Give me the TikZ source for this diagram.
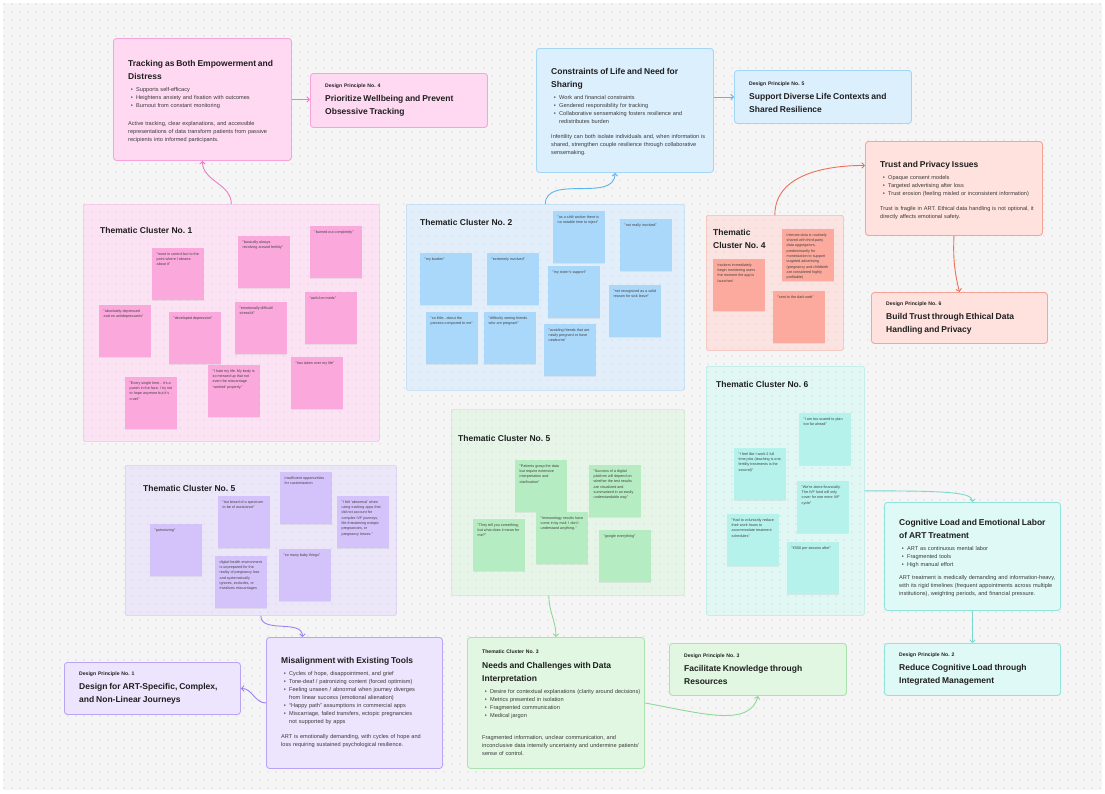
\documentclass[tikz,border=0pt]{standalone}
\usepackage{fontspec}
\setmainfont{Liberation Sans}
\usetikzlibrary{arrows.meta,shadows}

\definecolor{canvas}{HTML}{F5F5F5}
\definecolor{dotc}{HTML}{C9C9C9}
\definecolor{ink}{HTML}{1F1F1F}
\definecolor{body}{HTML}{3A3A3A}
% pink
\definecolor{pkBox}{HTML}{FFD9F1}\definecolor{pkLine}{HTML}{F5A3DA}\definecolor{pkArrow}{HTML}{F27AC9}
\definecolor{pkClu}{HTML}{FBE3F3}\definecolor{pkCluLine}{HTML}{F7BDE3}\definecolor{pkNote}{HTML}{FBA9DD}
% blue
\definecolor{buBox}{HTML}{DCEFFD}\definecolor{buLine}{HTML}{A3D5F7}\definecolor{buArrow}{HTML}{5BB5EE}
\definecolor{buClu}{HTML}{E2EFFA}\definecolor{buCluLine}{HTML}{B6DBF5}\definecolor{buNote}{HTML}{AAD8FB}
% salmon
\definecolor{rdBox}{HTML}{FFE1DD}\definecolor{rdLine}{HTML}{F5A596}\definecolor{rdArrow}{HTML}{EF6F58}
\definecolor{rdClu}{HTML}{FBE3E1}\definecolor{rdCluLine}{HTML}{F6B8AE}\definecolor{rdNote}{HTML}{FCAA9D}
% teal
\definecolor{tlBox}{HTML}{DFFAF6}\definecolor{tlLine}{HTML}{92E3DA}\definecolor{tlArrow}{HTML}{79DACF}
\definecolor{tlClu}{HTML}{E0F7F4}\definecolor{tlCluLine}{HTML}{B1EBE4}\definecolor{tlNote}{HTML}{B5F2EB}
% purple
\definecolor{ppBox}{HTML}{ECE5FD}\definecolor{ppLine}{HTML}{B9A4F5}\definecolor{ppArrow}{HTML}{9E80EF}
\definecolor{ppClu}{HTML}{ECE6F9}\definecolor{ppCluLine}{HTML}{D8CBF6}\definecolor{ppNote}{HTML}{D4C3FB}
% green
\definecolor{gnBox}{HTML}{E1F7E2}\definecolor{gnLine}{HTML}{ABE3AF}\definecolor{gnArrow}{HTML}{8ED996}
\definecolor{gnClu}{HTML}{E6F5E7}\definecolor{gnCluLine}{HTML}{C9E9CC}\definecolor{gnNote}{HTML}{B6ECC2}

\newcommand\ttl[1]{{\fontsize{8.5}{13}\selectfont\bfseries\color{ink}#1\par}}
\newcommand\lbl[1]{{\fontsize{5.1}{7}\selectfont\bfseries\color{ink}#1\par}}
\newcommand\itm[1]{\par\noindent\hangindent=8pt\hangafter=1\hbox to 8pt{\hspace{2.6pt}\textbullet\hfil}#1\par}
\newcommand\sticky[1]{\parbox[t][43pt][t]{43pt}{\raggedright #1}}
\frenchspacing

\begin{document}
\begin{tikzpicture}[x=1pt,y=-1pt,
  card/.style 2 args={fill=#1,draw=#2,line width=0.9pt,rounded corners=3pt,anchor=north west,inner sep=0pt},
  cluster/.style 2 args={fill=#1,draw=#2,line width=0.7pt,rounded corners=1.5pt,anchor=north west,inner sep=0pt},
  note/.style={fill=#1,anchor=north west,inner sep=4.5pt,font=\fontsize{3.7}{5.3}\selectfont,text=ink!85,
    drop shadow={opacity=0.12,shadow xshift=0pt,shadow yshift=-0.8pt}},
  ctitle/.style={anchor=west,inner sep=0pt,align=left,font=\fontsize{8.5}{13}\selectfont\bfseries,text=ink},
  txt/.style={anchor=west,inner sep=0pt,text width=170pt,align=left,font=\fontsize{5.6}{8}\selectfont,text=body},
  conn/.style={draw=#1,line width=0.9pt,-{Straight Barb[length=2.6pt,width=5.5pt]}}]

\fill[white] (0,0) rectangle (1105,793);
\fill[canvas] (3,3) rectangle (1102,790);
\useasboundingbox (0,0) rectangle (1105,793);

% cluster frames
\node[cluster={pkClu}{pkCluLine},minimum width=296,minimum height=237] (clu1) at (83,204) {};
\node[cluster={buClu}{buCluLine},minimum width=278,minimum height=186] (clu2) at (406,204) {};
\node[cluster={rdClu}{rdCluLine},minimum width=137,minimum height=135] (clu4) at (706,215) {};
\node[cluster={tlClu}{tlCluLine},minimum width=158,minimum height=249] (clu6) at (706,366) {};
\node[cluster={ppClu}{ppCluLine},minimum width=271,minimum height=150] (clu5l) at (125,465) {};
\node[cluster={gnClu}{gnCluLine},minimum width=233,minimum height=186] (clu5g) at (451,409) {};

% dotted canvas
\foreach \row in {4,12,...,788}
  \draw[dotc,line width=1.2pt,line cap=round,dash pattern=on 0pt off 8pt] (4,\row) -- (1101,\row);

\node[ctitle] at (100,230) {Thematic Cluster No. 1};
\node[ctitle] at (420,222) {Thematic Cluster No. 2};
\node[ctitle] at (713,238.5) {Thematic\\Cluster No. 4};
\node[ctitle] at (716,384) {Thematic Cluster No. 6};
\node[ctitle] at (143,488) {Thematic Cluster No. 5};
\node[ctitle] at (458,438) {Thematic Cluster No. 5};

% cluster 1
\node[note=pkNote] (c1a) at (152,248) {\sticky{"more in control but to the point where I obsess about it"}};
\node[note=pkNote] (c1b) at (238,236) {\sticky{"basically always revolving around fertility"}};
\node[note=pkNote] (c1c) at (310,226) {\sticky{"burned out completely"}};
\node[note=pkNote] (c1d) at (99,305) {\sticky{"absolutely depressed and on antidepressants"}};
\node[note=pkNote] (c1e) at (169,312) {\sticky{"developed depression"}};
\node[note=pkNote] (c1f) at (235,302) {\sticky{"emotionally difficult/ stressful"}};
\node[note=pkNote] (c1g) at (305,292) {\sticky{"awful on meds"}};
\node[note=pkNote] (c1h) at (125,377) {\sticky{"Every single time... it's a punch in the face. I try not to hope anymore but it's cruel."}};
\node[note=pkNote] (c1i) at (208,365) {\sticky{"I hate my life. My body is so messed up that not even the miscarriage 'worked' properly."}};
\node[note=pkNote] (c1j) at (291,357) {\sticky{"has taken over my life"}};

% cluster 2
\node[note=buNote] (c2a) at (553,211) {\sticky{"as a shift worker there is no notable time to inject"}};
\node[note=buNote] (c2b) at (620,219) {\sticky{"not really involved"}};
\node[note=buNote] (c2c) at (420,253) {\sticky{"my burden"}};
\node[note=buNote] (c2d) at (487,253) {\sticky{"extremely involved"}};
\node[note=buNote] (c2e) at (548,266) {\sticky{"my sister's support"}};
\node[note=buNote] (c2f) at (609,285) {\sticky{"not recognized as a valid reason for sick leave"}};
\node[note=buNote] (c2g) at (426,312) {\sticky{"so little...about the process compared to me"}};
\node[note=buNote] (c2h) at (484,312) {\sticky{"difficulty seeing friends who are pregnant"}};
\node[note=buNote] (c2i) at (544,324) {\sticky{"avoiding friends that are newly pregnant or have newborns"}};

% cluster 4
\node[note=rdNote] (c4a) at (713,259) {\sticky{trackers immediately begin monitoring users the moment the app is launched}};
\node[note=rdNote] (c4b) at (782,229) {\sticky{intimate data is routinely shared with third-party data aggregators, predominantly for monetization to support targeted advertising (pregnancy and childbirth are considered highly profitable)}};
\node[note=rdNote] (c4c) at (773,291) {\sticky{"sent to the dark web"}};

% cluster 6
\node[note=tlNote] (c6a) at (799,413) {\sticky{"I am too scared to plan too far ahead"}};
\node[note=tlNote] (c6b) at (734,448) {\sticky{"I feel like I work 2 full time jobs (teaching is one, fertility treatments is the second)"}};
\node[note=tlNote] (c6c) at (797,481) {\sticky{"We're alone financially. The IVF fund will only cover for one more IVF cycle"}};
\node[note=tlNote] (c6d) at (727,514) {\sticky{"Had to voluntarily reduce their work hours to accommodate treatment schedules"}};
\node[note=tlNote] (c6e) at (787,542) {\sticky{"€500 per session after"}};

% cluster 5, purple
\node[note=ppNote] (c5a) at (150,524) {\sticky{"patronizing"}};
\node[note=ppNote] (c5b) at (218,496) {\sticky{"too broad of a spectrum to be of assistance"}};
\node[note=ppNote] (c5c) at (280,472) {\sticky{insufficient opportunities for customization}};
\node[note=ppNote] (c5d) at (337,496) {\sticky{"I felt 'abnormal' when using tracking apps that did not account for complex IVF journeys, life-threatening ectopic pregnancies, or pregnancy losses."}};
\node[note=ppNote] (c5e) at (215,556) {\sticky{digital health environment is unprepared for the reality of pregnancy loss and systematically ignores, excludes, or trivializes miscarriages}};
\node[note=ppNote] (c5f) at (279,549) {\sticky{"so many baby things"}};

% cluster 5, green
\node[note=gnNote] (c3a) at (515,460) {\sticky{"Patients grasp the data but require extensive interpretation and clarification"}};
\node[note=gnNote] (c3b) at (589,465) {\sticky{"Success of a digital platform will depend on whether the test results are visualized and summarized in an easily understandable way"}};
\node[note=gnNote] (c3c) at (473,519) {\sticky{"They tell you something, but what does it mean for me?"}};
\node[note=gnNote] (c3d) at (536,512) {\sticky{"Immunology results have come in by mail. I don't understand anything."}};
\node[note=gnNote] (c3e) at (599,530) {\sticky{"google everything"}};

% findings and design principles
\node[card={pkBox}{pkLine},minimum width=178,minimum height=122] (track) at (113,38) {};
\node[txt] at ([xshift=15pt,yshift=-2pt]track.west) {\ttl{Tracking as Both Empowerment and\\Distress}\vspace{4pt}
  \itm{Supports self-efficacy}\itm{Heightens anxiety and fixation with outcomes}\itm{Burnout from constant monitoring}\vspace{10pt}
  Active tracking, clear explanations, and accessible\\representations of data transform patients from passive\\recipients into informed participants.};
\node[card={pkBox}{pkLine},minimum width=177,minimum height=54] (dp4) at (310,73) {};
\node[txt] at ([xshift=15pt]dp4.west) {\lbl{Design Principle No. 4}\vspace{1pt}\ttl{Prioritize Wellbeing and Prevent\\Obsessive Tracking}};

\node[card={buBox}{buLine},minimum width=177,minimum height=124] (cons) at (536,48) {};
\node[txt] at ([xshift=15pt,yshift=-2pt]cons.west) {\ttl{Constraints of Life and Need for\\Sharing}\vspace{4pt}
  \itm{Work and financial constraints}\itm{Gendered responsibility for tracking}\itm{Collaborative sensemaking fosters resilience and\newline redistributes burden}\vspace{7pt}
  Infertility can both isolate individuals and, when information is\\shared, strengthen couple resilience through collaborative\\sensemaking.};
\node[card={buBox}{buLine},minimum width=177,minimum height=53] (dp5) at (734,70) {};
\node[txt] at ([xshift=15pt]dp5.west) {\lbl{Design Principle No. 5}\vspace{1pt}\ttl{Support Diverse Life Contexts and\\Shared Resilience}};

\node[card={rdBox}{rdLine},minimum width=177,minimum height=94] (trust) at (865,141) {};
\node[txt] at ([xshift=15pt,yshift=-2pt]trust.west) {\ttl{Trust and Privacy Issues}\vspace{4pt}
  \itm{Opaque consent models}\itm{Targeted advertising after loss}\itm{Trust erosion (feeling misled or inconsistent information)}\vspace{7pt}
  Trust is fragile in ART. Ethical data handling is not optional, it\\directly affects emotional safety.};
\node[card={rdBox}{rdLine},minimum width=176,minimum height=51] (dp6) at (871,292) {};
\node[txt] at ([xshift=15pt]dp6.west) {\lbl{Design Principle No. 6}\vspace{1pt}\ttl{Build Trust through Ethical Data\\Handling and Privacy}};

\node[card={tlBox}{tlLine},minimum width=176,minimum height=108] (cog) at (884,502) {};
\node[txt] at ([xshift=15pt,yshift=-2pt]cog.west) {\ttl{Cognitive Load and Emotional Labor\\of ART Treatment}\vspace{4pt}
  \itm{ART as continuous mental labor}\itm{Fragmented tools}\itm{High manual effort}\vspace{5pt}
  ART treatment is medically demanding and information-heavy,\\with its rigid timelines (frequent appointments across multiple\\institutions), weighting periods, and financial pressure.};
\node[card={tlBox}{tlLine},minimum width=176,minimum height=52] (dp2) at (884,643) {};
\node[txt] at ([xshift=15pt]dp2.west) {\lbl{Design Principle No. 2}\vspace{1pt}\ttl{Reduce Cognitive Load through\\Integrated Management}};

\node[card={ppBox}{ppLine},minimum width=176,minimum height=131] (mis) at (266,637) {};
\node[txt] at ([xshift=15pt]mis.west) {\ttl{Misalignment with Existing Tools}\vspace{4pt}
  \itm{Cycles of hope, disappointment, and grief}\itm{Tone-deaf / patronizing content (forced optimism)}
  \itm{Feeling unseen / abnormal when journey diverges\newline from linear success (emotional alienation)}
  \itm{``Happy path'' assumptions in commercial apps}
  \itm{Miscarriage, failed transfers, ectopic pregnancies\newline not supported by apps}\vspace{7pt}
  ART is emotionally demanding, with cycles of hope and\\loss requiring sustained psychological resilience.};
\node[card={ppBox}{ppLine},minimum width=176,minimum height=52] (dp1) at (64,662) {};
\node[txt] at ([xshift=15pt]dp1.west) {\lbl{Design Principle No. 1}\vspace{1pt}\ttl{Design for ART-Specific, Complex,\\and Non-Linear Journeys}};

\node[card={gnBox}{gnLine},minimum width=177,minimum height=131] (needs) at (467,637) {};
\node[txt] at ([xshift=15pt]needs.west) {\lbl{Thematic Cluster No. 3}\vspace{2pt}\ttl{Needs and Challenges with Data\\Interpretation}\vspace{4pt}
  \itm{Desire for contextual explanations (clarity around decisions)}\itm{Metrics presented in isolation}\itm{Fragmented communication}\itm{Medical jargon}\vspace{14pt}
  Fragmented information, unclear communication, and\\inconclusive data intensify uncertainty and undermine patients'\\sense of control.};
\node[card={gnBox}{gnLine},minimum width=177,minimum height=52] (dp3) at (669,643) {};
\node[txt] at ([xshift=15pt]dp3.west) {\lbl{Design Principle No. 3}\vspace{1pt}\ttl{Facilitate Knowledge through\\Resources}};

% connectors
\draw[conn=pkArrow] (clu1.north) to[out=90,in=-90] (track.south);
\draw[conn=pkArrow] (track.east) -- (track.east -| dp4.west);
\draw[conn=buArrow] (clu2.north) to[out=90,in=-90] ([xshift=-10pt]cons.south);
\draw[conn=buArrow] (dp5.west -| cons.east) -- (dp5.west);
\draw[conn=rdArrow] (clu4.north) to[out=90,in=180] ([yshift=23pt]trust.west);
\draw[conn=rdArrow] (trust.south) to[bend right=8] (dp6.north);
\draw[conn=tlArrow] (clu6.east) .. controls ([xshift=80pt]clu6.east) and ([yshift=10pt]cog.north) .. (cog.north);
\draw[conn=tlArrow] (cog.south) -- (dp2.north);
\draw[conn=ppArrow] (clu5l.south) to[out=-90,in=90] ([xshift=-52pt]mis.north);
\draw[conn=ppArrow] (mis.west) to[out=180,in=0] (dp1.east);
\draw[conn=gnArrow] ([xshift=-19pt]clu5g.south) to[out=-90,in=90] (needs.north);
\draw[conn=gnArrow] (needs.east) .. controls +(55,10) and +(-8,32) .. (dp3.south);
\end{tikzpicture}
\end{document}
